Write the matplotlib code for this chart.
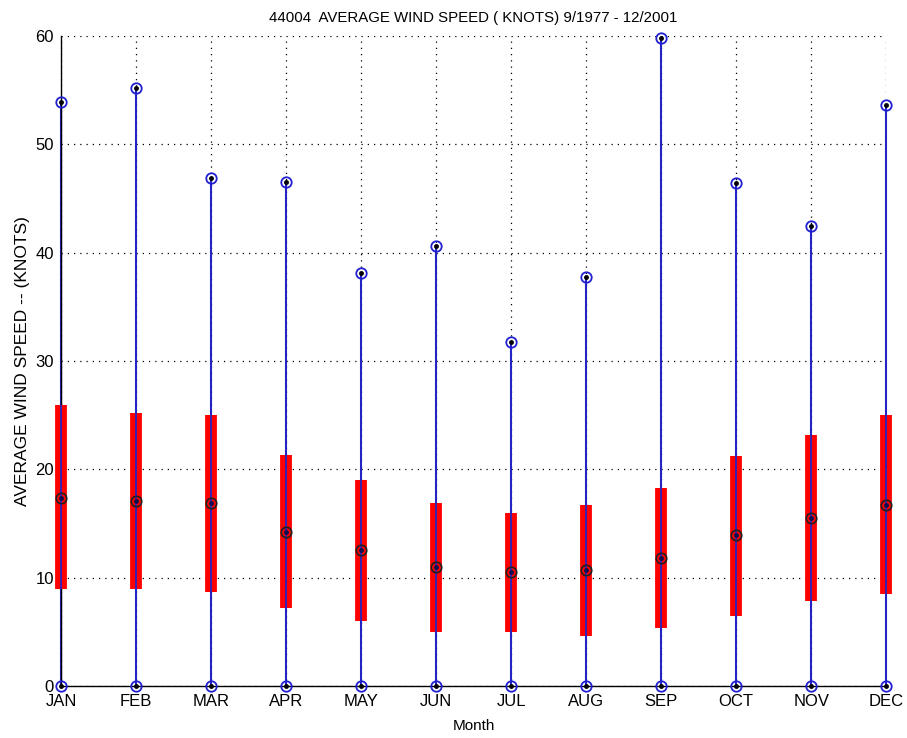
import matplotlib
matplotlib.use("Agg")
import matplotlib.pyplot as plt

months = ['JAN', 'FEB', 'MAR', 'APR', 'MAY', 'JUN', 'JUL', 'AUG', 'SEP', 'OCT', 'NOV', 'DEC']
max_speed = [53.9, 55.2, 46.9, 46.5, 38.1, 40.6, 31.8, 37.8, 59.8, 46.4, 42.5, 53.6]
min_speed = [0, 0, 0, 0, 0, 0, 0, 0, 0, 0, 0, 0]
upper_q = [25.9, 25.2, 25.0, 21.3, 19.0, 16.9, 16.0, 16.7, 18.3, 21.2, 23.2, 25.0]
lower_q = [8.95, 8.95, 8.7, 7.2, 6.0, 5.0, 5.0, 4.6, 5.35, 6.45, 7.8, 8.5]
median = [17.35, 17.1, 16.9, 14.25, 12.6, 11.0, 10.5, 10.7, 11.85, 13.9, 15.5, 16.7]

plt.rcParams['font.family'] = ['Liberation Sans', 'DejaVu Sans']

fig = plt.figure(figsize=(9.07, 7.38), dpi=100)
ax = fig.add_axes([0.0673, 0.0705, 0.9097, 0.8805])

x = list(range(1, 13))

# whiskers from min to max
ax.vlines(x, min_speed, max_speed, color='#2424c4', linewidth=1.5, zorder=2, clip_on=False)
# interquartile boxes
ax.vlines(x, lower_q, upper_q, color='#ff0000', linewidth=8.5, zorder=3, clip_on=False)
ax.vlines(x, lower_q, upper_q, color='#2424c4', linewidth=1.3, zorder=3.5, clip_on=False)

# end markers
for ys in (max_speed, min_speed):
    ax.plot(x, ys, 'o', mfc='none', mec='#2020d0', ms=7.5, mew=1.3, zorder=5, clip_on=False)
    ax.plot(x, ys, '.', color='black', ms=5, zorder=6, clip_on=False)
ax.plot(x, median, 'o', mfc='none', mec='#202020', ms=7.5, mew=1.2, zorder=5, clip_on=False)
ax.plot(x, median, '.', color='#101050', ms=5, zorder=6, clip_on=False)

ax.set_xlim(1, 12)
ax.set_ylim(0, 60)
ax.set_xticks(x)
ax.set_xticklabels(months)
ax.set_yticks(range(0, 61, 10))
ax.tick_params(length=0, labelsize=12)
ax.tick_params(axis='x', pad=6)
ax.tick_params(axis='y', pad=5)

ax.grid(True, linestyle=(0, (1, 4)), color='black', linewidth=0.9)
ax.set_axisbelow(True)
for s in ('top', 'right'):
    ax.spines[s].set_visible(False)
for s in ('left', 'bottom'):
    ax.spines[s].set_linewidth(1.0)

ax.set_title('44004  AVERAGE WIND SPEED ( KNOTS) 9/1977 - 12/2001', fontsize=10.8, pad=10)
ax.set_xlabel('Month', fontsize=11, labelpad=7)
ax.set_ylabel('AVERAGE WIND SPEED -- (KNOTS)', fontsize=12.5, labelpad=4)

fig.savefig('out.png', dpi=100)
